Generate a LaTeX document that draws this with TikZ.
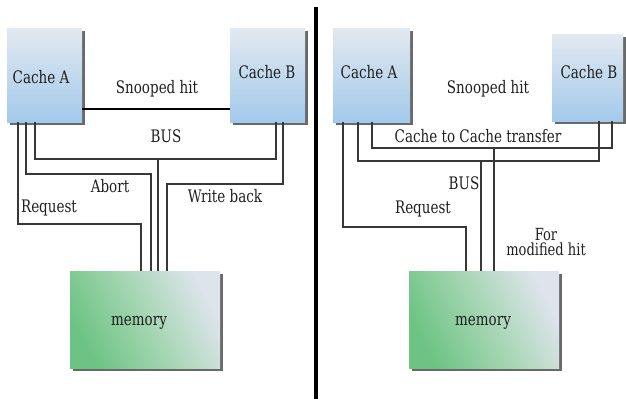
\documentclass[tikz,border=0pt]{standalone}
\usepackage{fontspec}
\newfontfamily\labelfont{DejaVu Serif Condensed}
\usetikzlibrary{shadows}
\definecolor{cachetop}{HTML}{E2E9F0}
\definecolor{cachebot}{HTML}{A3C9EB}
\definecolor{memgreen}{HTML}{6CC383}
\definecolor{memmid}{HTML}{A4D5B2}
\definecolor{memlight}{HTML}{DEE4EC}
\definecolor{wirecol}{HTML}{383838}
\begin{document}
\begin{tikzpicture}[x=1pt,y=-1pt,
  boxshadow/.style={drop shadow={shadow xshift=3pt, shadow yshift=-3pt, fill=black!65, opacity=0.9}},
  cachebox/.style={rectangle, inner sep=0pt, top color=cachetop, bottom color=cachebot, boxshadow},
  membox/.style={rectangle, inner sep=0pt, top color=memlight, bottom color=memgreen,
    middle color=memmid, shading angle=-62, boxshadow},
  txt/.style={font=\labelfont\fontsize{15}{17}\selectfont, text=black!88, inner sep=0pt,
    yscale=1.15, transform shape},
  small/.style={font=\labelfont\fontsize{14.5}{13.5}\selectfont, text=black!88, inner sep=0pt,
    align=center, yscale=1.15, transform shape},
  wire/.style={draw=wirecol, line width=1.3pt},
  snoop/.style={draw=black, line width=2pt},
]
\useasboundingbox (0,0) rectangle (626,399);

% ---------- left: snooped hit with write back ----------
\node[cachebox, minimum width=75pt, minimum height=94pt] (cA1) at (44.5,75) {};
\node[cachebox, minimum width=75pt, minimum height=94pt] (cB1) at (267.5,75) {};
\node[membox, minimum width=150pt, minimum height=97pt] (mem1) at (145,319.5) {};
\node[txt] (lA1) at (41,77) {Cache A};
\node[txt] (lB1) at (267,72) {Cache B};
\node[txt] (lM1) at (139,323) {memory};

\draw[snoop] (cA1.east |- 0,109) -- (cB1.west |- 0,109);
\node[txt] (snoop1) at (157,89) {Snooped hit};

\coordinate (bus1) at (158,159);
\draw[wire] (cA1.south -| 35,0) -- (35,159) -- (276,159) -- (cB1.south -| 276,0);
\draw[wire] (bus1) -- (mem1.north -| bus1);
\draw[wire] (cA1.south -| 26,0) -- (26,174) -- (151,174) -- (mem1.north -| 151,0);
\draw[wire] (cB1.south -| 283,0) -- (283,184) -- (167,184) -- (mem1.north -| 167,0);
\draw[wire] (cA1.south -| 18,0) -- (18,224) -- (141,224) -- (mem1.north -| 141,0);

\node[txt] (busl1) at (166,136) {BUS};
\node[txt] (abort) at (110,186) {Abort};
\node[txt] (wb) at (225,196) {Write back};
\node[txt] (req1) at (49,208) {Request};

% ---------- divider ----------
\draw[line width=4pt] (316,7) -- (316,399);

% ---------- right: snooped hit with cache to cache transfer ----------
\node[cachebox, minimum width=77pt, minimum height=94pt] (cA2) at (371.5,75) {};
\node[cachebox, minimum width=71pt, minimum height=87pt] (cB2) at (587.5,77.5) {};
\node[membox, minimum width=150pt, minimum height=97pt] (mem2) at (484,319.5) {};
\node[txt] (lA2) at (369,72) {Cache A};
\node[txt] (lB2) at (589,72) {Cache B};
\node[txt] (lM2) at (483,323) {memory};
\node[txt] (snoop2) at (488,89) {Snooped hit};

\coordinate (xfer) at (494,148);
\coordinate (bus2) at (481,161);
\draw[wire] (cA2.south -| 372,0) -- (372,148) -- (612,148) -- (cB2.south -| 612,0);
\draw[wire] (xfer) -- (mem2.north -| xfer);
\draw[wire] (cA2.south -| 358,0) -- (358,161) -- (599,161) -- (cB2.south -| 599,0);
\draw[wire] (bus2) -- (mem2.north -| bus2);
\draw[wire] (cA2.south -| 343,0) -- (343,227) -- (466,227) -- (mem2.north -| 466,0);

\node[txt] (c2c) at (478,136) {Cache to Cache transfer};
\node[txt] (busl2) at (464,183) {BUS};
\node[txt] (req2) at (423,209) {Request};
\node[small] (fmh) at (546,242) {For\\modified hit};
\end{tikzpicture}
\end{document}
